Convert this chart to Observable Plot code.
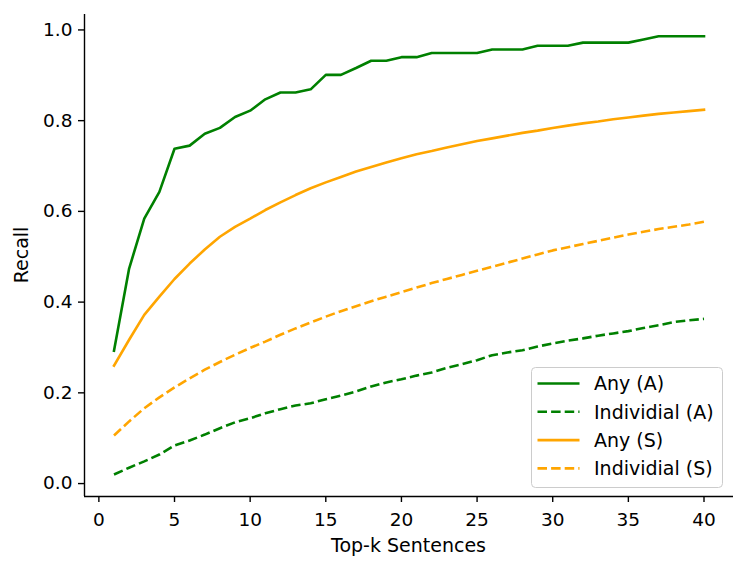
<!DOCTYPE html>
<html>
<head>
<meta charset="utf-8">
<script src="https://cdn.jsdelivr.net/npm/d3@7"></script>
<script src="https://cdn.jsdelivr.net/npm/@observablehq/plot@0.6"></script>
<style>
  html, body { margin: 0; padding: 0; background: #fff; }
  #chart { position: relative; width: 747px; height: 570px; }
  svg { font-family: "DejaVu Sans", sans-serif; }
</style>
</head>
<body>
<div id="chart"></div>
<script>
const topK = [1,2,3,4,5,6,7,8,9,10,11,12,13,14,15,16,17,18,19,20,21,22,23,24,25,26,27,28,29,30,31,32,33,34,35,36,37,38,39,40];

const anyA = [0.293,0.474,0.584,0.643,0.738,0.745,0.771,0.784,0.808,0.822,0.847,0.862,0.862,0.869,0.901,0.901,0.916,0.932,0.932,0.940,
              0.940,0.949,0.949,0.949,0.949,0.957,0.957,0.957,0.965,0.965,0.965,0.972,0.972,0.972,0.972,0.979,0.986,0.986,0.986,0.986];
const indivA = [0.020,0.035,0.049,0.064,0.084,0.095,0.108,0.122,0.135,0.144,0.155,0.164,0.172,0.177,0.186,0.194,0.203,0.214,0.223,0.230,
                0.238,0.245,0.255,0.263,0.272,0.283,0.289,0.294,0.302,0.309,0.315,0.320,0.326,0.331,0.336,0.343,0.349,0.356,0.360,0.363];
const anyS = [0.260,0.317,0.372,0.412,0.451,0.485,0.516,0.544,0.566,0.584,0.603,0.620,0.636,0.651,0.664,0.676,0.688,0.698,0.708,0.717,
              0.726,0.733,0.741,0.748,0.755,0.761,0.767,0.773,0.778,0.784,0.789,0.794,0.798,0.803,0.807,0.811,0.815,0.818,0.821,0.824];
const indivS = [0.106,0.137,0.166,0.190,0.212,0.232,0.251,0.268,0.284,0.299,0.313,0.328,0.342,0.355,0.368,0.380,0.391,0.402,0.412,0.422,
                0.432,0.442,0.451,0.460,0.469,0.478,0.487,0.496,0.505,0.514,0.521,0.528,0.535,0.542,0.549,0.555,0.561,0.566,0.571,0.577];

const seriesNames = ["Any (A)", "Individial (A)", "Any (S)", "Individial (S)"];
const seriesValues = [anyA, indivA, anyS, indivS];
const seriesColors = ["green", "green", "orange", "orange"];
const seriesDashed = [false, true, false, true];

const xTicks = [0,5,10,15,20,25,30,35,40];
const yTicks = [0.0,0.2,0.4,0.6,0.8,1.0];
const xLabel = "Top-k Sentences";
const yLabel = "Recall";

const xDomain = [-0.95, 41.95];
const yDomain = [-0.0285, 1.034];
const DASH = "9.5,4.1";
const FS = 19;
const TFS = 18.5;

const lineMarks = seriesValues.map((vals, i) => {
  const rows = topK.map((k, j) => ({k, v: vals[j]}));
  return Plot.line(rows, {
    x: "k", y: "v",
    stroke: seriesColors[i],
    strokeWidth: 2.6,
    strokeDasharray: seriesDashed[i] ? DASH : null,
    strokeLinecap: seriesDashed[i] ? "butt" : "square",
    strokeLinejoin: "round"
  });
});

const chart = Plot.plot({
  width: 747,
  height: 570,
  marginTop: 14,
  marginBottom: 74,
  marginLeft: 84,
  marginRight: 14,
  style: {background: "white", color: "black", fontFamily: "DejaVu Sans, sans-serif"},
  x: {domain: xDomain, label: null},
  y: {domain: yDomain, label: null},
  marks: [
    ...lineMarks,
    Plot.ruleX([xDomain[0]], {stroke: "black", strokeWidth: 1.4}),
    Plot.ruleY([yDomain[0]], {stroke: "black", strokeWidth: 1.4}),
    Plot.axisX({ticks: xTicks, tickSize: 6, tickPadding: 10, fontSize: TFS, stroke: "black", strokeWidth: 1.4, label: null, tickFormat: d => String(d)}),
    Plot.axisY({ticks: yTicks, tickSize: 6, tickPadding: 6, fontSize: TFS, stroke: "black", strokeWidth: 1.4, label: null, tickFormat: d3.format(".1f")})
  ]
});

document.getElementById("chart").appendChild(chart);

const svg = d3.select(chart);
// axis titles
svg.append("text")
  .attr("x", (84 + 733) / 2).attr("y", 552)
  .attr("text-anchor", "middle")
  .attr("font-size", FS).attr("fill", "black")
  .text(xLabel);
svg.append("text")
  .attr("transform", `translate(28,${(14 + 496) / 2}) rotate(-90)`)
  .attr("text-anchor", "middle")
  .attr("font-size", FS).attr("fill", "black")
  .text(yLabel);

// legend
const lg = svg.append("g").attr("transform", "translate(531.5,367.5)");
lg.append("rect")
  .attr("width", 191).attr("height", 120)
  .attr("rx", 4).attr("ry", 4)
  .attr("fill", "white").attr("fill-opacity", 0.8)
  .attr("stroke", "#cccccc").attr("stroke-width", 1);
seriesNames.forEach((name, i) => {
  const cy = 16 + i * 28.3;
  lg.append("line")
    .attr("x1", 6).attr("x2", 48).attr("y1", cy).attr("y2", cy)
    .attr("stroke", seriesColors[i]).attr("stroke-width", 2.6)
    .attr("stroke-dasharray", seriesDashed[i] ? DASH : null);
  lg.append("text")
    .attr("x", 62.5).attr("y", cy).attr("dy", "0.36em")
    .attr("text-anchor", "start")
    .attr("font-size", FS).attr("fill", "black")
    .text(name);
});
</script>
</body>
</html>
